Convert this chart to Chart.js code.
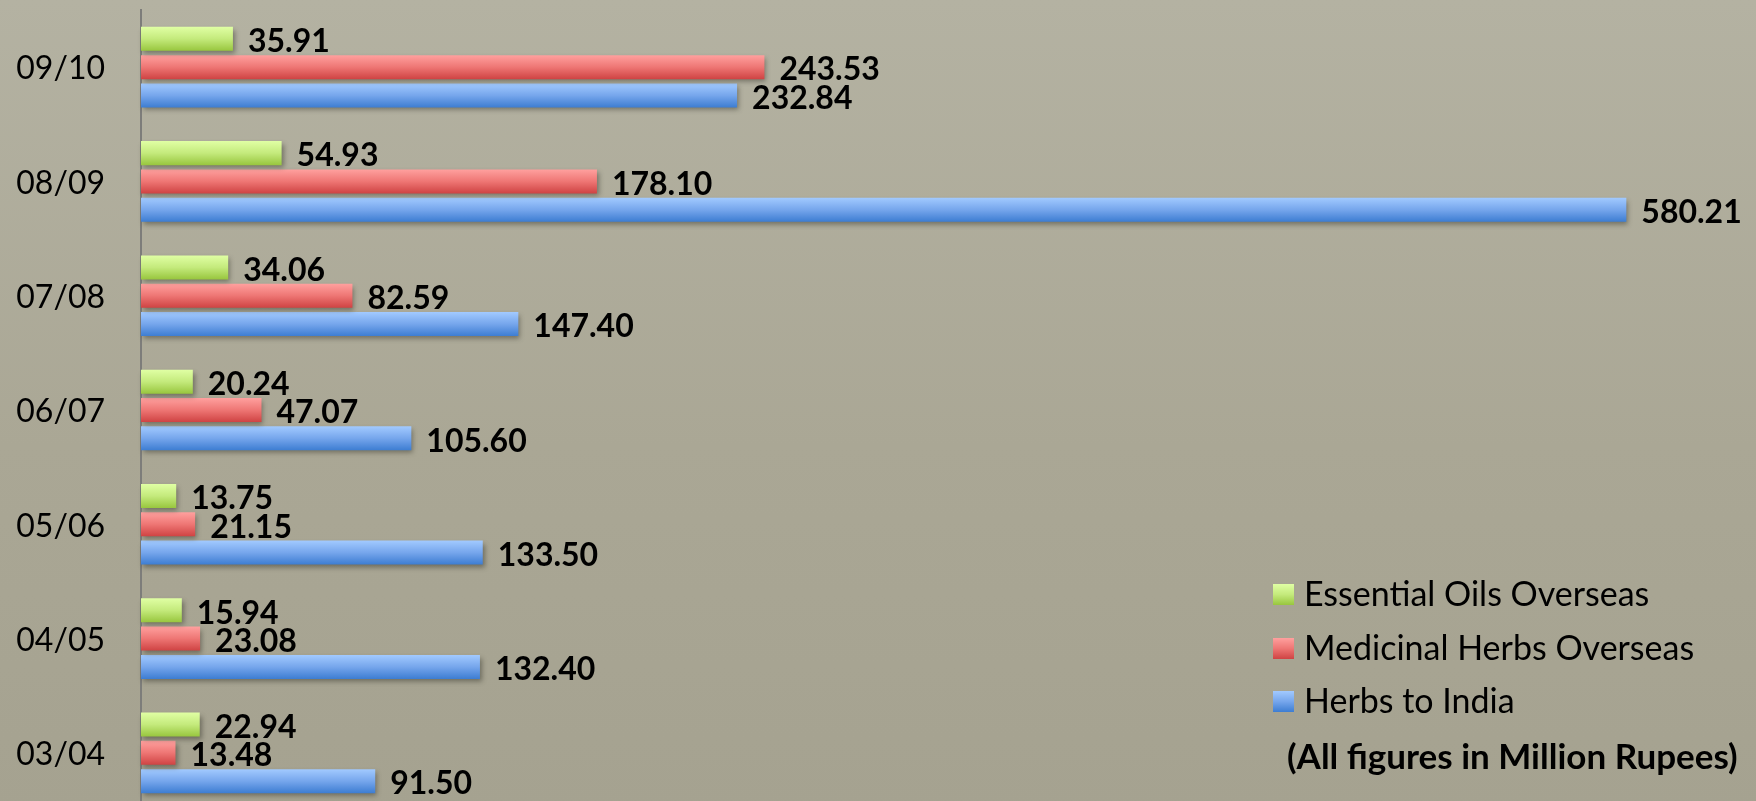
<!DOCTYPE html>
<html><head><meta charset="utf-8">
<script src="https://cdn.jsdelivr.net/npm/chart.js@4/dist/chart.umd.min.js"></script>
<style>
html,body{margin:0;padding:0;overflow:hidden;width:1756px;height:801px;background:#aba996}
#wrap{position:relative;width:1756px;height:812px;background:linear-gradient(#b4b2a2,#aaa795 55%,#a5a290)}
canvas{display:block}
</style></head><body><div id="wrap"><canvas id="c" width="1756" height="812"></canvas></div>
<script>
// ---- data ----
const categories = ['09/10', '08/09', '07/08', '06/07', '05/06', '04/05', '03/04'];
const seriesNames = ['Essential Oils Overseas', 'Medicinal Herbs Overseas', 'Herbs to India'];
const essentialOils = [35.91, 54.93, 34.06, 20.24, 13.75, 15.94, 22.94];
const medicinalHerbs = [243.53, 178.10, 82.59, 47.07, 21.15, 23.08, 13.48];
const herbsToIndia = [232.84, 580.21, 147.40, 105.60, 133.50, 132.40, 91.50];
const valueRange = [0, 600];
const footnote = '(All figures in Million Rupees)';

// ---- styles ----
const FONT = 'Lato, "Open Sans", sans-serif';
const CAT_PCT = 0.743, BAR_PCT = 0.848;
const palettes = [
  ['#e0ffa4', '#c4ea7c', '#98c63e'],
  ['#ffa09e', '#ee7674', '#cf4343'],
  ['#a2caff', '#76a6ec', '#3d7dd2']
];

function barGradient(stops) {
  return function (ctx) {
    const chart = ctx.chart;
    const y = chart.scales && chart.scales.y;
    if (!y || ctx.type !== 'data' || !isFinite(y.height) || y.height <= 0) return stops[1];
    const center = y.getPixelForValue(ctx.dataIndex);
    const spacing = y.height / categories.length;
    const slot = spacing * CAT_PCT / 3;
    const thick = slot * BAR_PCT;
    const c = center + (ctx.datasetIndex - 1) * slot;
    const g = chart.ctx.createLinearGradient(0, c - thick / 2, 0, c + thick / 2);
    g.addColorStop(0, stops[0]);
    g.addColorStop(0.5, stops[1]);
    g.addColorStop(1, stops[2]);
    return g;
  };
}

const shadowPlugin = {
  id: 'shadow',
  beforeDatasetsDraw(chart) {
    const c = chart.ctx;
    c.save();
    c.shadowColor = 'rgba(40,40,30,0.45)';
    c.shadowBlur = 5;
    c.shadowOffsetX = 2;
    c.shadowOffsetY = 3;
  },
  afterDatasetsDraw(chart) {
    const c = chart.ctx;
    c.restore();
    c.save();
    c.fillStyle = '#000';
    c.font = 'bold 32px ' + FONT;
    c.textAlign = 'left';
    c.textBaseline = 'middle';
    chart.data.datasets.forEach((ds, di) => {
      const meta = chart.getDatasetMeta(di);
      meta.data.forEach((el, i) => {
        c.fillText(ds.data[i].toFixed(2), el.x + 15, el.y + 3);
      });
    });
    c.restore();
  },
  afterDraw(chart) {
    const c = chart.ctx;
    c.save();
    const rows = [594, 648, 701];
    c.textBaseline = 'middle';
    c.textAlign = 'left';
    chart.data.datasets.forEach((ds, di) => {
      const y = rows[di];
      const st = palettes[di];
      const g = c.createLinearGradient(0, y - 10, 0, y + 11);
      g.addColorStop(0, st[0]); g.addColorStop(0.5, st[1]); g.addColorStop(1, st[2]);
      c.fillStyle = g;
      c.fillRect(1273, y - 10, 21, 21);
      c.fillStyle = '#000';
      c.font = '34px ' + FONT;
      c.fillText(ds.label, 1304, y + 1);
    });
    c.font = 'bold 35px ' + FONT;
    c.fillText(footnote, 1287, 758);
    c.restore();
  }
};

const data = {
  labels: categories,
  datasets: [essentialOils, medicinalHerbs, herbsToIndia].map((vals, i) => ({
    label: seriesNames[i],
    data: vals,
    backgroundColor: barGradient(palettes[i]),
    borderWidth: 0,
    categoryPercentage: CAT_PCT,
    barPercentage: BAR_PCT,
    clip: false
  }))
};

new Chart(document.getElementById('c'), {
  type: 'bar',
  data,
  options: {
    indexAxis: 'y',
    responsive: false,
    animation: false,
    events: [],
    layout: { padding: { top: 10, right: 79, bottom: 2, left: 0 } },
    plugins: { legend: { display: false }, tooltip: { enabled: false } },
    scales: {
      x: { type: 'linear', min: valueRange[0], max: valueRange[1], display: false },
      y: {
        type: 'category',
        grid: { display: false, drawTicks: false },
        border: { display: true, color: '#7d7d7a', width: 2 },
        ticks: { color: '#000', padding: 36, labelOffset: 2, font: { family: FONT, size: 32 } },
        afterFit(scale) {
          scale.width = 141;
          scale.paddingTop = 0;
          scale.paddingBottom = 0;
        }
      }
    }
  },
  plugins: [shadowPlugin]
});
</script>
</body></html>
